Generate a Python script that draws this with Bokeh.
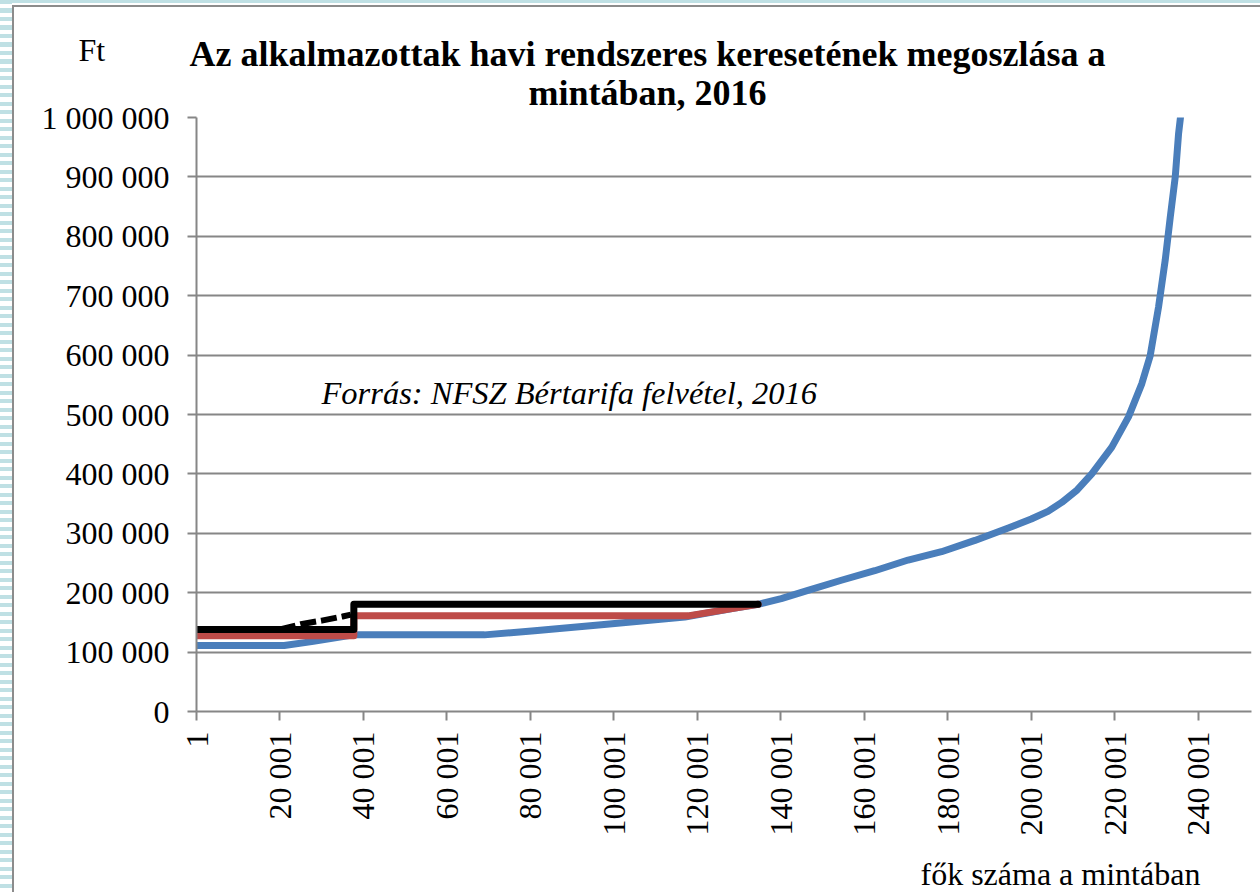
import math
from bokeh.plotting import figure
from bokeh.models import Range1d, FixedTicker, Label
from bokeh.embed import file_html
from bokeh.resources import INLINE

# ---------------- data ----------------
blue_x = [1, 21000, 28000, 37700, 69000, 81000, 97000, 117000, 129000, 134550,
          140100, 146500, 154500, 162500, 170500, 178500, 186500, 194500, 200000,
          204000, 207300, 211000, 214500, 219300, 223300, 226500, 228500, 230500,
          232100, 233300, 234500, 235300, 235750]
blue_y = [111000, 111000, 118000, 129000, 129000, 136000, 146000, 159000, 174000, 180500,
          190000, 204000, 221000, 237000, 255000, 269000, 288000, 309000, 324000,
          337000, 352000, 373000, 400000, 445000, 496000, 552000, 599000, 681000,
          760000, 832000, 900000, 973000, 1000000]

red_x = [1, 37700, 37700, 117750, 129000, 134550]
red_y = [127500, 127500, 161000, 161000, 174000, 180500]

black_x = [1, 37700, 37700, 134550]
black_y = [138000, 138000, 180500, 180500]

black_dash_x = [20000, 25000, 30000, 35000, 37000]
black_dash_y = [138000, 147000, 153000, 160000, 163000]

x_ticks = [1, 20001, 40001, 60001, 80001, 100001, 120001, 140001, 160001, 180001,
           200001, 220001, 240001]
x_tick_labels = ["1", "20 001", "40 001", "60 001", "80 001", "100 001", "120 001",
                 "140 001", "160 001", "180 001", "200 001", "220 001", "240 001"]
y_ticks = [0, 100000, 200000, 300000, 400000, 500000, 600000, 700000, 800000,
           900000, 1000000]
y_tick_labels = ["0", "100 000", "200 000", "300 000", "400 000", "500 000",
                 "600 000", "700 000", "800 000", "900 000", "1 000 000"]

title_lines = ["Az alkalmazottak havi rendszeres keresetének megoszlása a",
               "mintában, 2016"]
y_unit = "Ft"
source_note = "Forrás: NFSZ Bértarifa felvétel, 2016"
x_title = "fők száma a mintában"

# ---------------- layout ----------------
W, H = 1260, 892
FL, FR, FT, FB = 196, 1251, 117, 711
X0, X1 = 1, 252770
Y0, Y1 = 0, 1000000

FONT = "Liberation Serif"
GRAY = "#868686"
BLUE = "#4A7EBB"
RED = "#BE4B48"

bg = ("linear-gradient(#ffffff,#ffffff) 14px 7px / 1246px 885px no-repeat, "
      "linear-gradient(#8c8c8c,#8c8c8c) 12px 5px / 1248px 887px no-repeat, "
      "linear-gradient(#bfe0e4,#bfe0e4) 0px 0px / 1260px 3px no-repeat, "
      "repeating-linear-gradient(to bottom, #bfe0e4 0px, #bfe0e4 4px, #ffffff 4px, #ffffff 8.5px) 0px 0px / 12px 892px no-repeat, "
      "#ffffff")

p = figure(width=W, height=H, output_backend="svg", toolbar_location=None,
           x_range=Range1d(X0, X1), y_range=Range1d(Y0, Y1),
           min_border_left=FL, min_border_right=W - FR,
           min_border_top=FT, min_border_bottom=H - FB)
p.styles = {"position": "absolute", "left": "0px", "top": "0px", "background": bg}
p.border_fill_alpha = 0
p.background_fill_color = "white"
p.outline_line_color = None

p.xgrid.visible = False
p.ygrid.grid_line_color = GRAY
p.ygrid.grid_line_width = 2
p.ygrid.ticker = FixedTicker(ticks=y_ticks)

for ax in (p.xaxis[0], p.yaxis[0]):
    ax.axis_line_color = GRAY
    ax.axis_line_width = 2
    ax.major_tick_line_color = GRAY
    ax.major_tick_line_width = 2
    ax.major_tick_in = 0
    ax.major_tick_out = 9
    ax.minor_tick_line_color = None
    ax.major_label_text_font = FONT
    ax.major_label_text_font_size = "32px"
    ax.major_label_text_color = "black"

p.xaxis.ticker = FixedTicker(ticks=x_ticks)
p.xaxis.major_label_overrides = {t: l for t, l in zip(x_ticks, x_tick_labels)}
p.xaxis.major_label_orientation = math.pi / 2
p.xaxis.major_label_standoff = 11

p.yaxis.ticker = FixedTicker(ticks=y_ticks)
p.yaxis.major_label_overrides = {t: l for t, l in zip(y_ticks, y_tick_labels)}
p.yaxis.major_label_standoff = 18

# series
p.line(blue_x, blue_y, line_color=BLUE, line_width=7, line_cap="round", line_join="round")
p.line(red_x, red_y, line_color=RED, line_width=7, line_cap="round", line_join="round")
p.line(black_x, black_y, line_color="black", line_width=7, line_cap="round", line_join="round")
p.line(black_dash_x, black_dash_y, line_color="black", line_width=6, line_dash="16 5")

# ---------------- text overlay (transparent figure covering the whole page) ----------------
q = figure(width=W, height=H, output_backend="svg", toolbar_location=None,
           x_axis_type=None, y_axis_type=None,
           x_range=Range1d(0, W), y_range=Range1d(H, 0),
           min_border=0)
q.styles = {"position": "absolute", "left": "0px", "top": "0px"}
q.border_fill_alpha = 0
q.background_fill_alpha = 0
q.outline_line_color = None
q.title.visible = False

def add_label(px, py, text, size, align="left", style="normal"):
    # py is the wanted baseline; the renderer places the alphabetic baseline ~0.37em lower
    q.add_layout(Label(x=px, y=py - 0.37 * size, x_units="canvas", y_units="canvas",
                       text=text, text_font=FONT, text_font_size=f"{size}px",
                       text_font_style=style, text_align=align,
                       text_baseline="alphabetic", text_color="black"))

add_label(647, 67, title_lines[0], 36, align="center", style="bold")
add_label(647, 106, title_lines[1], 36, align="center", style="bold")
add_label(78, 61, y_unit, 32)
add_label(321, 405, source_note, 32.5, style="italic")
add_label(920, 885, x_title, 32)

open("out.html", "w").write(file_html([p, q], INLINE))
